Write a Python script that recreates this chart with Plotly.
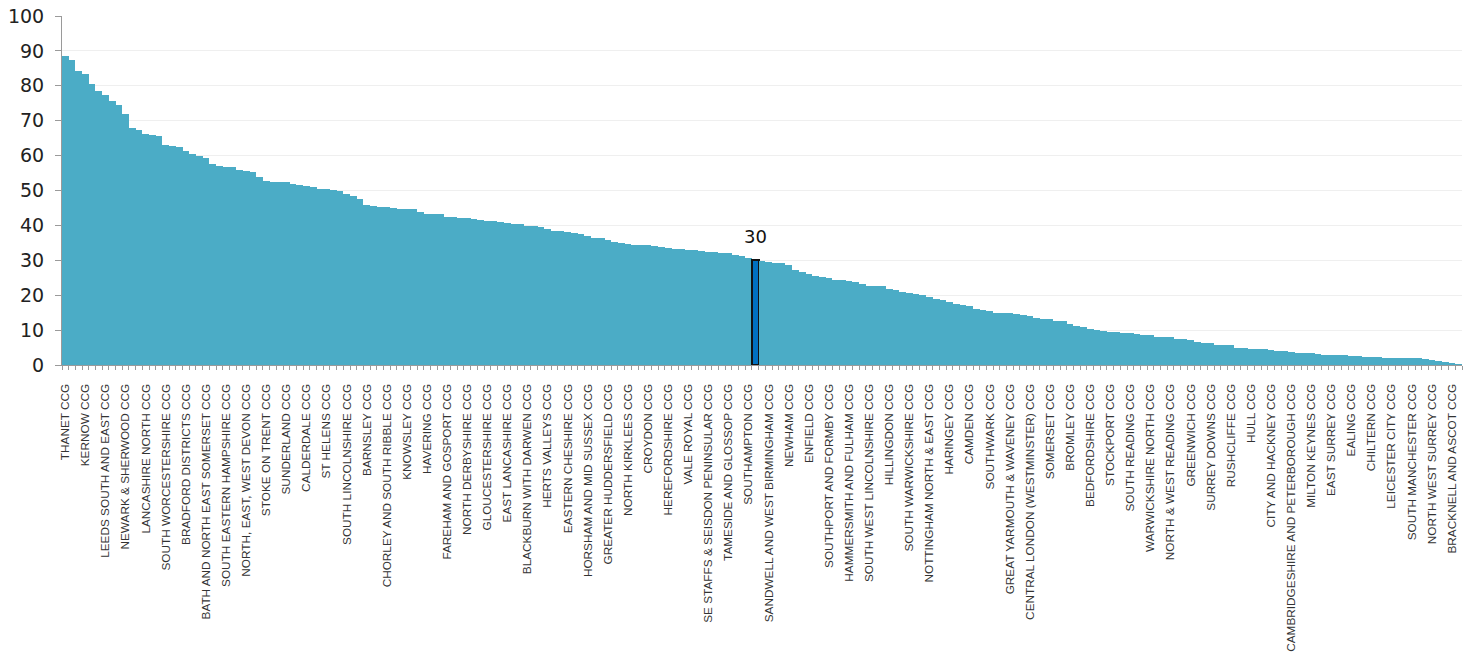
import plotly.graph_objects as go

# Tick labels (every third bar is labelled)
labels = [
    "THANET CCG", "KERNOW CCG", "LEEDS SOUTH AND EAST CCG", "NEWARK & SHERWOOD CCG",
    "LANCASHIRE NORTH CCG", "SOUTH WORCESTERSHIRE CCG", "BRADFORD DISTRICTS CCG",
    "BATH AND NORTH EAST SOMERSET CCG", "SOUTH EASTERN HAMPSHIRE CCG",
    "NORTH, EAST, WEST DEVON CCG", "STOKE ON TRENT CCG", "SUNDERLAND CCG",
    "CALDERDALE CCG", "ST HELENS CCG", "SOUTH LINCOLNSHIRE CCG", "BARNSLEY CCG",
    "CHORLEY AND SOUTH RIBBLE CCG", "KNOWSLEY CCG", "HAVERING CCG",
    "FAREHAM AND GOSPORT CCG", "NORTH DERBYSHIRE CCG", "GLOUCESTERSHIRE CCG",
    "EAST LANCASHIRE CCG", "BLACKBURN WITH DARWEN CCG", "HERTS VALLEYS CCG",
    "EASTERN CHESHIRE CCG", "HORSHAM AND MID SUSSEX CCG", "GREATER HUDDERSFIELD CCG",
    "NORTH KIRKLEES CCG", "CROYDON CCG", "HEREFORDSHIRE CCG", "VALE ROYAL CCG",
    "SE STAFFS & SEISDON PENINSULAR CCG", "TAMESIDE AND GLOSSOP CCG", "SOUTHAMPTON CCG",
    "SANDWELL AND WEST BIRMINGHAM CCG", "NEWHAM CCG", "ENFIELD CCG",
    "SOUTHPORT AND FORMBY CCG", "HAMMERSMITH AND FULHAM CCG",
    "SOUTH WEST LINCOLNSHIRE CCG", "HILLINGDON CCG", "SOUTH WARWICKSHIRE CCG",
    "NOTTINGHAM NORTH & EAST CCG", "HARINGEY CCG", "CAMDEN CCG", "SOUTHWARK CCG",
    "GREAT YARMOUTH & WAVENEY CCG", "CENTRAL LONDON (WESTMINSTER) CCG", "SOMERSET CCG",
    "BROMLEY CCG", "BEDFORDSHIRE CCG", "STOCKPORT CCG", "SOUTH READING CCG",
    "WARWICKSHIRE NORTH CCG", "NORTH & WEST READING CCG", "GREENWICH CCG",
    "SURREY DOWNS CCG", "RUSHCLIFFE CCG", "HULL CCG", "CITY AND HACKNEY CCG",
    "CAMBRIDGESHIRE AND PETERBOROUGH CCG", "MILTON KEYNES CCG", "EAST SURREY CCG",
    "EALING CCG", "CHILTERN CCG", "LEICESTER CITY CCG", "SOUTH MANCHESTER CCG",
    "NORTH WEST SURREY CCG", "BRACKNELL AND ASCOT CCG",
]
label_step = 3

values = [
    88.5, 87.3, 84.2, 83.4, 80.4, 78.5, 77.4, 75.7, 74.5, 71.9,
    68.0, 67.3, 66.3, 66.0, 65.7, 62.9, 62.8, 62.5, 61.4, 60.6,
    59.8, 59.4, 57.7, 56.9, 56.6, 56.6, 56.0, 55.7, 55.4, 53.9,
    52.7, 52.3, 52.3, 52.3, 52.0, 51.7, 51.4, 51.0, 50.4, 50.4,
    50.1, 50.0, 48.9, 48.5, 47.5, 45.8, 45.5, 45.3, 45.2, 44.9,
    44.7, 44.6, 44.6, 43.8, 43.4, 43.4, 43.3, 42.4, 42.3, 42.1,
    42.0, 41.7, 41.5, 41.4, 41.3, 40.9, 40.7, 40.4, 40.3, 39.8,
    39.7, 39.5, 39.0, 38.5, 38.4, 38.1, 37.8, 37.4, 37.1, 36.5,
    36.4, 35.8, 35.2, 35.0, 34.7, 34.5, 34.4, 34.3, 34.1, 33.7,
    33.5, 33.3, 33.2, 33.0, 32.9, 32.7, 32.4, 32.3, 32.2, 32.0,
    31.6, 31.1, 30.6, 30.0, 29.8, 29.4, 29.3, 29.2, 28.7, 27.2,
    26.6, 26.1, 25.4, 25.2, 24.8, 24.5, 24.4, 24.2, 23.8, 23.3,
    22.7, 22.6, 22.5, 21.7, 21.5, 21.0, 20.6, 20.4, 20.1, 19.5,
    18.9, 18.7, 18.1, 17.4, 17.2, 16.8, 16.0, 15.8, 15.6, 15.0,
    14.9, 14.8, 14.6, 14.2, 14.0, 13.5, 13.3, 13.1, 12.7, 12.5,
    11.8, 11.3, 10.8, 10.3, 9.9, 9.7, 9.5, 9.4, 9.2, 9.1,
    8.9, 8.7, 8.6, 8.1, 8.0, 7.9, 7.5, 7.4, 7.2, 6.7,
    6.4, 6.3, 5.8, 5.8, 5.7, 5.0, 4.9, 4.7, 4.6, 4.5,
    4.3, 4.0, 3.9, 3.6, 3.5, 3.3, 3.3, 3.2, 3.0, 3.0,
    2.9, 2.9, 2.6, 2.6, 2.3, 2.3, 2.2, 2.1, 2.0, 2.0,
    2.0, 1.9, 1.9, 1.6, 1.4, 1.1, 0.8, 0.5, 0.2,
]
highlight_index = 103

base_color = "#4BACC6"
highlight_color = "#0070C0"

n = len(values)
x = list(range(n))
colors = [highlight_color if i == highlight_index else base_color for i in x]
line_widths = [2 if i == highlight_index else 0 for i in x]

fig = go.Figure()
fig.add_trace(go.Bar(
    x=x, y=values,
    marker=dict(color=colors, line=dict(color="#111111", width=line_widths)),
    hoverinfo="x+y",
))

fig.add_annotation(
    x=highlight_index, y=values[highlight_index],
    text=f"{values[highlight_index]:g}",
    showarrow=False, yanchor="bottom", yshift=11,
    font=dict(family="DejaVu Sans", size=18, color="#111111"),
)

fig.update_layout(
    width=1471, height=655,
    margin=dict(l=62, r=9, t=16, b=290),
    paper_bgcolor="white", plot_bgcolor="white",
    bargap=0, showlegend=False,
)
fig.update_xaxes(
    range=[-0.5, n - 0.5],
    automargin=False,
    tickmode="array",
    tickvals=x[::label_step][:len(labels)],
    ticktext=labels,
    tickangle=-90,
    ticks="",
    tickfont=dict(family="Liberation Sans", size=11.8, color="#333333"),
    ticklabelstandoff=13,
    ticklabeloverflow="allow",
    showline=True, linecolor="#9a9a9a", linewidth=1,
    showgrid=False, zeroline=False,
    minor=dict(tickmode="linear", tick0=-0.5, dtick=1, ticks="outside",
               ticklen=4, tickcolor="#9a9a9a", showgrid=False),
)
fig.update_yaxes(
    range=[0, 100], dtick=10,
    automargin=False,
    tickfont=dict(family="DejaVu Sans", size=19, color="#222222"),
    ticks="outside", ticklen=6, tickcolor="#9a9a9a",
    ticklabelstandoff=7,
    ticklabeloverflow="allow",
    showline=True, linecolor="#9a9a9a", linewidth=1,
    showgrid=True, gridcolor="#EFEFEF", gridwidth=1,
    zeroline=False,
)

# Remove the default 8px page margin so the figure sits at the window's corner.
fig.write_html(
    "out.html",
    config={"displayModeBar": False},
    post_script="document.body.style.margin='0';document.body.style.overflow='hidden';",
)
